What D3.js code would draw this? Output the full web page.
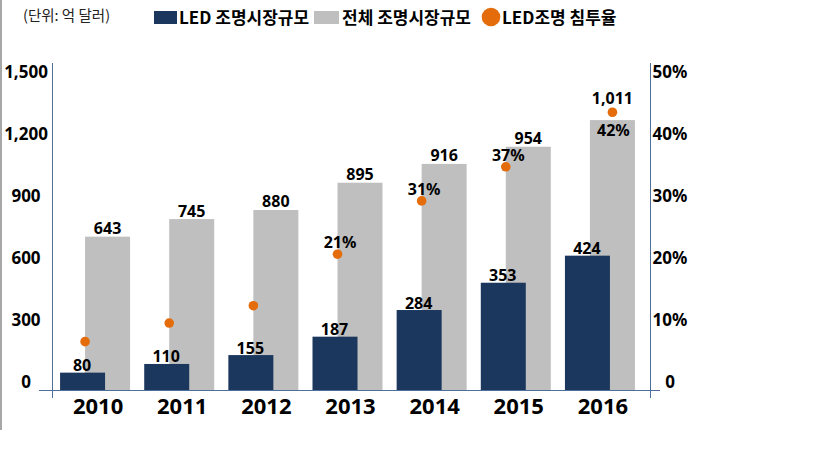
<!DOCTYPE html>
<html><head><meta charset="utf-8">
<script src="https://cdn.jsdelivr.net/npm/d3@7"></script>
<style>
html,body{margin:0;padding:0;background:#fff;}
svg{display:block;font-family:"Noto Sans","Noto Sans CJK KR",sans-serif;}
</style></head>
<body><svg id="c" width="819" height="460"></svg>
<script>
// ---- data ----
const years = ["2010","2011","2012","2013","2014","2015","2016"];
// printed data labels (억 달러)
const ledLabels   = [80, 110, 155, 187, 284, 353, 424];
const totalLabels = [643, 745, 880, 895, 916, 954, 1011];
// bar heights as drawn in the picture, read against the left axis
const ledBarLevel   = [84, 126, 169, 258, 387, 519, 650];
const totalBarLevel = [742, 827, 871, 1003, 1094, 1177, 1306];
// LED penetration dots, read against the right axis (%)
const shareLevel  = [7.8, 10.8, 13.6, 21.9, 30.5, 36.0, 44.8];
const shareLabels = ["", "", "", "21%", "31%", "37%", "42%"];
const leftTicks  = [0, 300, 600, 900, 1200, 1500];
const rightTicks = [0, 10, 20, 30, 40, 50];

const C = {navy:"#1B375E", gray:"#BFBFBF", orange:"#E46C0A", axis:"#4F6F9A", text:"#000"};

const svg = d3.select("#c");
const x = d3.scaleBand().domain(years).range([53, 642]).padding(0);
const y = d3.scaleLinear().domain([0, 1500]).range([390, 80]);
const yr = d3.scaleLinear().domain([0, 50]).range([390, 80]);
const cx = d => x(d) + x.bandwidth() / 2;

// left border line
svg.append("line").attr("x1",1).attr("x2",1).attr("y1",0).attr("y2",430)
  .attr("stroke","#8a8a8a").attr("stroke-width",1.5);

// bars
const g = svg.append("g");
g.selectAll("rect.tot").data(years).join("rect").attr("class","tot")
  .attr("x", d => cx(d) - 10).attr("width", 45)
  .attr("y", (d,i) => y(totalBarLevel[i])).attr("height", (d,i) => y(0) - y(totalBarLevel[i]))
  .attr("fill", C.gray);
g.selectAll("rect.led").data(years).join("rect").attr("class","led")
  .attr("x", d => cx(d) - 35).attr("width", 45)
  .attr("y", (d,i) => y(ledBarLevel[i])).attr("height", (d,i) => y(0) - y(ledBarLevel[i]))
  .attr("fill", C.navy);

// axes lines
svg.append("line").attr("x1",52.5).attr("x2",52.5).attr("y1",63).attr("y2",398).attr("stroke",C.axis);
svg.append("line").attr("x1",650.5).attr("x2",650.5).attr("y1",63).attr("y2",398).attr("stroke",C.axis);
svg.append("line").attr("x1",39).attr("x2",660).attr("y1",390.5).attr("y2",390.5).attr("stroke",C.axis);

// left axis labels
const la = svg.append("g").attr("transform","translate(26,-8)")
  .call(d3.axisLeft(y).tickValues(leftTicks).tickFormat(d3.format(",")).tickSize(0).tickPadding(0));
la.select(".domain").remove();
la.selectAll("text").attr("text-anchor","middle").attr("x",0)
  .style("font-size","17px").style("font-weight","bold").attr("fill",C.text)
  .style("font-family",'"Noto Sans",sans-serif');

// right axis labels
const ra = svg.append("g").attr("transform","translate(670,-8)")
  .call(d3.axisRight(yr).tickValues(rightTicks).tickFormat(d => d === 0 ? "0" : d + "%").tickSize(0).tickPadding(0));
ra.select(".domain").remove();
ra.selectAll("text").attr("text-anchor","middle").attr("x",0)
  .style("font-size","17px").style("font-weight","bold").attr("fill",C.text)
  .style("font-family",'"Noto Sans",sans-serif');

// x axis labels
svg.append("g").selectAll("text").data(years).join("text")
  .attr("x", d => cx(d) + 3).attr("y", 414).attr("text-anchor","middle")
  .style("font-size","22px").style("font-weight","bold").attr("fill",C.text).text(d => d);

// data labels
const lab = svg.append("g").style("font-size","16px").style("font-weight","bold").attr("fill",C.text);
lab.selectAll("text.led").data(years).join("text").attr("class","led")
  .attr("x", d => cx(d) - 13).attr("y", (d,i) => y(ledBarLevel[i]) - 1.5)
  .attr("text-anchor","middle").text((d,i) => d3.format(",")(ledLabels[i]));

// dot position: above the total bar -> centred on the gray bar, labels stacked
const dotAbove = i => yr(shareLevel[i]) < y(totalBarLevel[i]);
const dotX = (d,i) => dotAbove(i) ? cx(d) + 12.5 : cx(d) - 10;

lab.selectAll("text.tot").data(years).join("text").attr("class","tot")
  .attr("x", d => cx(d) + 12.5)
  .attr("y", (d,i) => dotAbove(i) ? yr(shareLevel[i]) - 8 : y(totalBarLevel[i]) - 2.5)
  .attr("text-anchor","middle").text((d,i) => d3.format(",")(totalLabels[i]));

svg.append("g").selectAll("circle").data(years).join("circle")
  .attr("cx", dotX).attr("cy", (d,i) => yr(shareLevel[i])).attr("r", 4.8)
  .attr("fill", C.orange);

lab.selectAll("text.pct").data(years).join("text").attr("class","pct")
  .attr("x", (d,i) => dotAbove(i) ? dotX(d,i) + 1 : dotX(d,i) + 2.5)
  .attr("y", (d,i) => dotAbove(i) ? yr(shareLevel[i]) + 24 : yr(shareLevel[i]) - 6)
  .attr("text-anchor","middle").text((d,i) => shareLabels[i]);

// legend
svg.append("text").attr("x",23).attr("y",20.5).style("font-size","14.5px").attr("fill","#222")
  .style("font-family",'"Noto Sans CJK KR",sans-serif').text("(단위: 억 달러)");
const lg = svg.append("g").style("font-size","17px").style("font-weight","bold").attr("fill",C.text)
  .style("font-family",'"Noto Sans CJK KR",sans-serif');
lg.append("rect").attr("x",154).attr("y",11).attr("width",23).attr("height",13).attr("fill",C.navy);
lg.append("text").attr("x",179).attr("y",24).text("LED 조명시장규모");
lg.append("rect").attr("x",314).attr("y",11).attr("width",25).attr("height",13).attr("fill",C.gray);
lg.append("text").attr("x",342).attr("y",24).text("전체 조명시장규모");
lg.append("circle").attr("cx",491).attr("cy",17).attr("r",9.3).attr("fill",C.orange);
lg.append("text").attr("x",502).attr("y",24).text("LED조명 침투율");
</script></body></html>
